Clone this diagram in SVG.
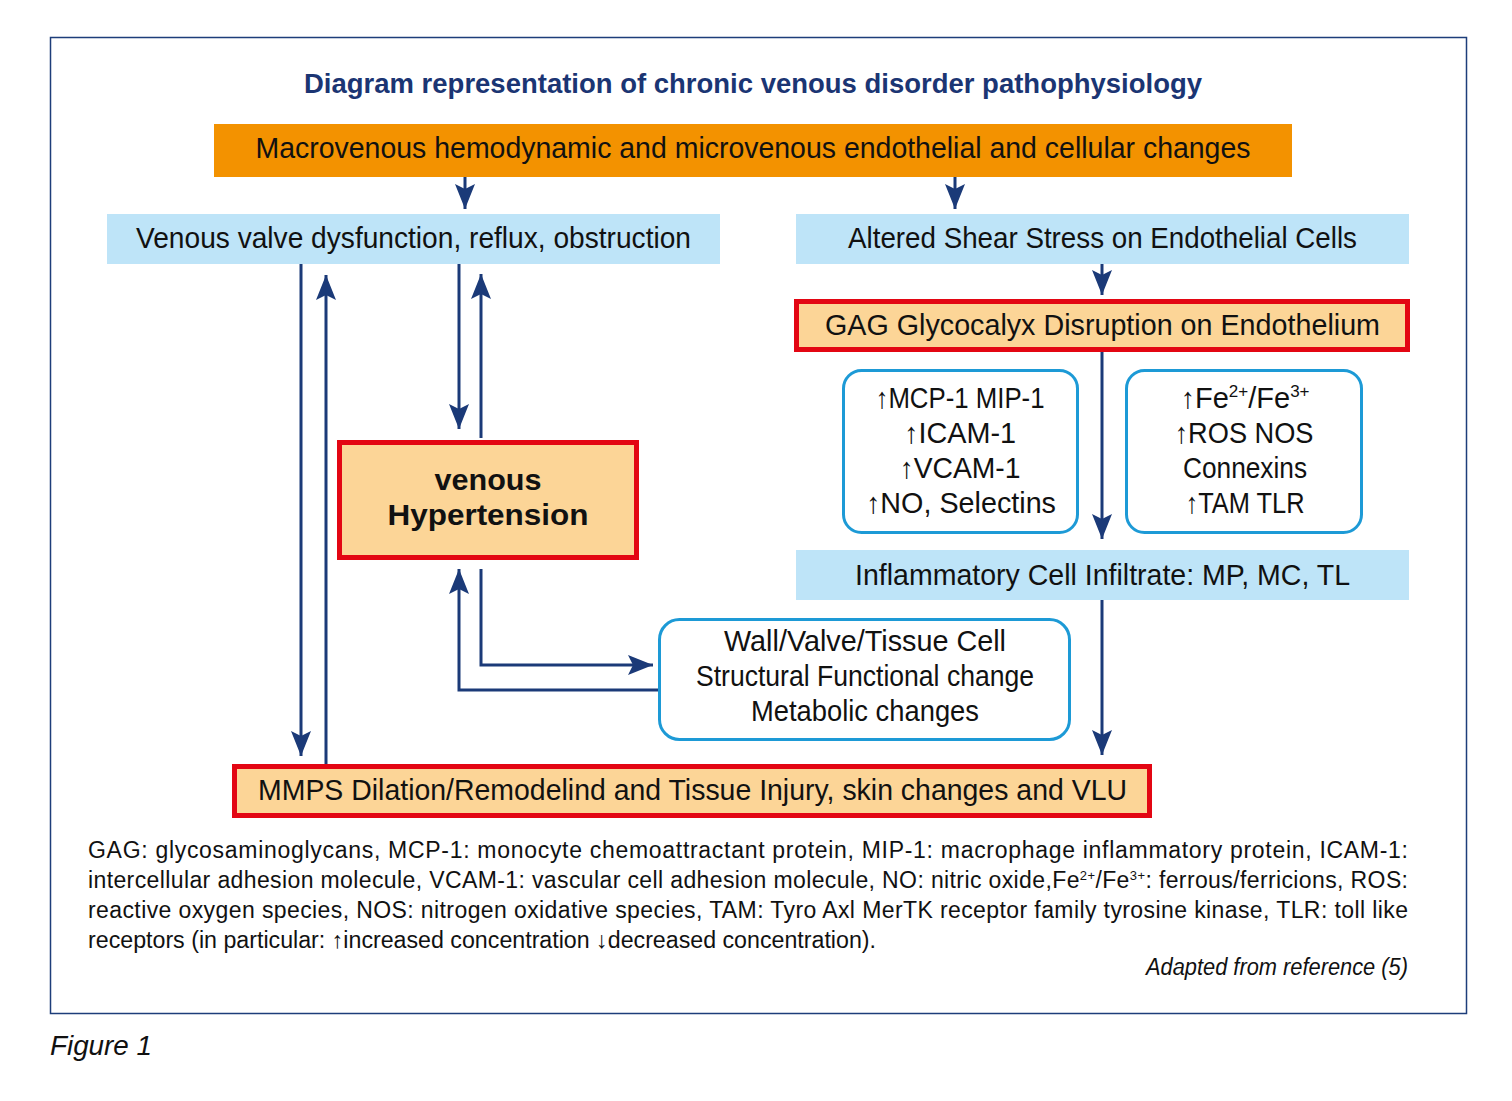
<svg xmlns="http://www.w3.org/2000/svg" width="1512" height="1101" viewBox="0 0 1512 1101">
<defs>
<style>
text{font-family:"Liberation Sans Narrow","Liberation Sans",sans-serif;fill:#111;}
.t{font-size:29px;text-anchor:middle;}
.title{font-family:"Liberation Sans","DejaVu Sans",sans-serif;font-weight:bold;font-size:27px;fill:#1b3573;text-anchor:middle;}
.lb{fill:#bee4f8;}
.red{fill:#fcd597;stroke:#e30613;stroke-width:5;}
.cy{fill:#fff;stroke:#1d9ad6;stroke-width:3;}
.c{fill:none;stroke:#1b3a78;stroke-width:3;}
.fn{font-size:23px;}
.it{font-style:italic;}
</style>
<marker id="ah" markerUnits="userSpaceOnUse" markerWidth="28" markerHeight="22" refX="25" refY="10" orient="auto">
<path d="M0,0 L25,10 L0,20 L5,10 z" fill="#1b3a78"/>
</marker>
</defs>
<rect x="50.5" y="37.5" width="1416" height="976" fill="#fff" stroke="#1d3d7a" stroke-width="1.5"/>
<text class="title" x="753" y="93" textLength="898" lengthAdjust="spacingAndGlyphs">Diagram representation of chronic venous disorder pathophysiology</text>

<g id="connectors">
<path class="c" d="M465,177 V209" marker-end="url(#ah)"/>
<path class="c" d="M955,177 V209" marker-end="url(#ah)"/>
<path class="c" d="M1102,264 V295" marker-end="url(#ah)"/>
<path class="c" d="M1102,352 V539" marker-end="url(#ah)"/>
<path class="c" d="M1102,600 V755" marker-end="url(#ah)"/>
<path class="c" d="M301,264 V756" marker-end="url(#ah)"/>
<path class="c" d="M326,764 V275" marker-end="url(#ah)"/>
<path class="c" d="M459,264 V429" marker-end="url(#ah)"/>
<path class="c" d="M481,438 V274" marker-end="url(#ah)"/>
<path class="c" d="M481,569 V665 H653" marker-end="url(#ah)"/>
<path class="c" d="M659,690 H459 V569" marker-end="url(#ah)"/>
</g>

<g id="n-macro">
<rect x="214" y="124" width="1078" height="53" fill="#f39200"/>
<text class="t" x="753" y="158" textLength="995" lengthAdjust="spacingAndGlyphs">Macrovenous hemodynamic and microvenous endothelial and cellular changes</text>
</g>
<g id="n-valve">
<rect class="lb" x="107" y="214" width="613" height="50"/>
<text class="t" x="413.5" y="248" textLength="555" lengthAdjust="spacingAndGlyphs">Venous valve dysfunction, reflux, obstruction</text>
</g>
<g id="n-shear">
<rect class="lb" x="796" y="214" width="613" height="50"/>
<text class="t" x="1102.5" y="248" textLength="509" lengthAdjust="spacingAndGlyphs">Altered Shear Stress on Endothelial Cells</text>
</g>
<g id="n-gag">
<rect class="red" x="796.5" y="301.5" width="611" height="48"/>
<text class="t" x="1102.5" y="335" textLength="555" lengthAdjust="spacingAndGlyphs">GAG Glycocalyx Disruption on Endothelium</text>
</g>
<g id="n-mcp">
<rect class="cy" x="843.5" y="370.5" width="234" height="162" rx="18"/>
<text class="t" x="960" y="408" textLength="169" lengthAdjust="spacingAndGlyphs">↑MCP-1 MIP-1</text>
<text class="t" x="960" y="443" textLength="112" lengthAdjust="spacingAndGlyphs">↑ICAM-1</text>
<text class="t" x="960" y="478" textLength="121" lengthAdjust="spacingAndGlyphs">↑VCAM-1</text>
<text class="t" x="961" y="513" textLength="190" lengthAdjust="spacingAndGlyphs">↑NO, Selectins</text>
</g>
<g id="n-fe">
<rect class="cy" x="1126.5" y="370.5" width="235" height="162" rx="18"/>
<text class="t" x="1245" y="408">↑Fe<tspan font-size="17" dy="-11">2+</tspan><tspan dy="11">/Fe</tspan><tspan font-size="17" dy="-11">3+</tspan></text>
<text class="t" x="1244" y="443" textLength="139" lengthAdjust="spacingAndGlyphs">↑ROS NOS</text>
<text class="t" x="1245" y="478" textLength="124" lengthAdjust="spacingAndGlyphs">Connexins</text>
<text class="t" x="1245" y="513" textLength="119" lengthAdjust="spacingAndGlyphs">↑TAM TLR</text>
</g>
<g id="n-infl">
<rect class="lb" x="796" y="550" width="613" height="50"/>
<text class="t" x="1102.5" y="585" textLength="495" lengthAdjust="spacingAndGlyphs">Inflammatory Cell Infiltrate: MP, MC, TL</text>
</g>
<g id="n-hyper">
<rect class="red" x="339.5" y="442.5" width="297" height="115"/>
<text class="t" x="488" y="490" font-weight="bold" font-family="Liberation Sans, sans-serif" textLength="107" lengthAdjust="spacingAndGlyphs">venous</text>
<text class="t" x="488" y="525" font-weight="bold" font-family="Liberation Sans, sans-serif" textLength="201" lengthAdjust="spacingAndGlyphs">Hypertension</text>
</g>
<g id="n-wall">
<rect class="cy" x="659.5" y="619.5" width="410" height="120" rx="20"/>
<text class="t" x="865" y="651" textLength="282" lengthAdjust="spacingAndGlyphs">Wall/Valve/Tissue Cell</text>
<text class="t" x="865" y="686" textLength="338" lengthAdjust="spacingAndGlyphs">Structural Functional change</text>
<text class="t" x="865" y="721" textLength="228" lengthAdjust="spacingAndGlyphs">Metabolic changes</text>
</g>
<g id="n-mmps">
<rect class="red" x="234.5" y="766.5" width="915" height="49"/>
<text class="t" x="692.5" y="800" textLength="869" lengthAdjust="spacingAndGlyphs">MMPS Dilation/Remodelind and Tissue Injury, skin changes and VLU</text>
</g>

<text class="fn" x="88" y="858" textLength="1320" lengthAdjust="spacing">GAG: glycosaminoglycans, MCP-1: monocyte chemoattractant protein, MIP-1: macrophage inflammatory protein, ICAM-1:</text>
<text class="fn" x="88" y="888" textLength="1320" lengthAdjust="spacing">intercellular adhesion molecule, VCAM-1: vascular cell adhesion molecule, NO: nitric oxide,Fe<tspan font-size="13" dy="-8">2+</tspan><tspan dy="8">/Fe</tspan><tspan font-size="13" dy="-8">3+</tspan><tspan dy="8">: ferrous/ferricions, ROS:</tspan></text>
<text class="fn" x="88" y="918" textLength="1320" lengthAdjust="spacing">reactive oxygen species, NOS: nitrogen oxidative species, TAM: Tyro Axl MerTK receptor family tyrosine kinase, TLR: toll like</text>
<text class="fn" x="88" y="948" textLength="788" lengthAdjust="spacingAndGlyphs">receptors (in particular: ↑increased concentration ↓decreased concentration).</text>
<text class="fn it" x="1146" y="975" textLength="262" lengthAdjust="spacingAndGlyphs">Adapted from reference (5)</text>
<text class="it" x="50" y="1055" font-size="28" textLength="102" lengthAdjust="spacingAndGlyphs">Figure 1</text>
</svg>
